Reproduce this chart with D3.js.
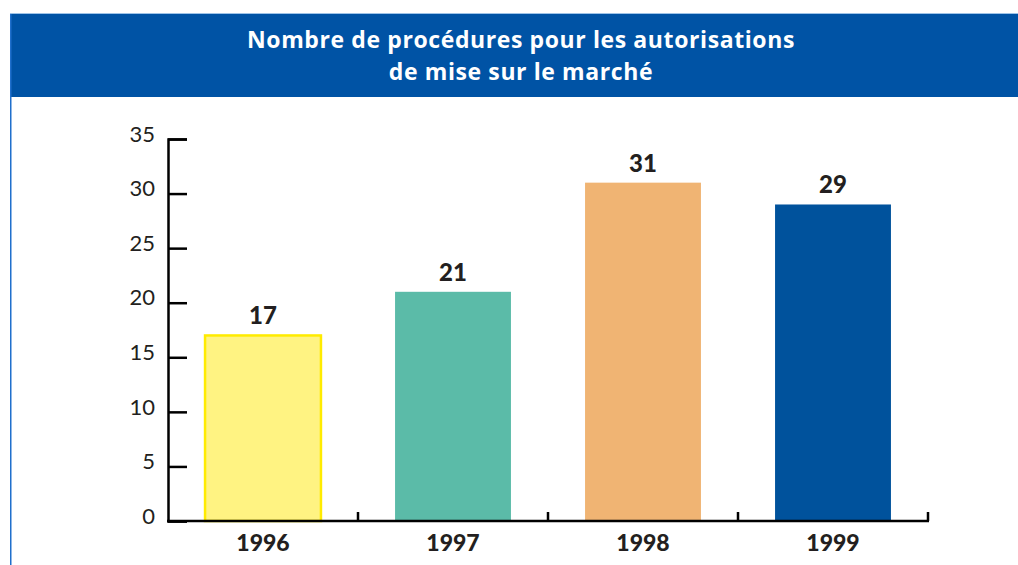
<!DOCTYPE html>
<html>
<head>
<meta charset="utf-8">
<script src="https://cdn.jsdelivr.net/npm/d3@7"></script>
<style>
  body { margin: 0; background: #fff; }
  svg { display: block; font-family: Lato, "Open Sans", sans-serif; }
</style>
</head>
<body>
<svg class="chart"></svg>
<script>
const years = ["1996", "1997", "1998", "1999"];
const values = [17, 21, 31, 29];
const barColors = ["#fff382", "#5bbba8", "#f0b473", "#00529c"];
const yTicks = [0, 5, 10, 15, 20, 25, 30, 35];
const titleLines = ["Nombre de procédures pour les autorisations", "de mise sur le marché"];

const width = 1018, height = 565;
const svg = d3.select(".chart").attr("width", width).attr("height", height);

// header band + left border
svg.append("rect").attr("x", 10).attr("y", 13).attr("width", width - 10).attr("height", 1.5).attr("fill", "#9ec3e8");
svg.append("rect").attr("x", 10).attr("y", 14).attr("width", width - 10).attr("height", 83).attr("fill", "#0053a5");
svg.append("rect").attr("x", 10).attr("y", 14).attr("width", 1.5).attr("height", height - 14).attr("fill", "#1f6fcc");

svg.selectAll(".title").data(titleLines).join("text").attr("class", "title")
  .attr("x", 521).attr("y", (d, i) => 48 + i * 32)
  .attr("text-anchor", "middle").attr("fill", "#fff")
  .attr("font-family", "'Open Sans', sans-serif")
  .attr("font-weight", "bold").attr("font-size", 23).attr("letter-spacing", 0.6).text(d => d);

const x = d3.scaleBand().domain(years).range([168, 928]).paddingInner(0.39).paddingOuter(0.195);
const y = d3.scaleLinear().domain([0, 35]).range([521, 139]);

// bars
svg.selectAll(".bar").data(values).join("rect").attr("class", "bar")
  .attr("x", (d, i) => x(years[i]))
  .attr("y", d => y(d))
  .attr("width", x.bandwidth())
  .attr("height", d => y(0) - y(d))
  .attr("fill", (d, i) => barColors[i])
  .attr("stroke", (d, i) => i == 0 ? "#ffeb00" : "none")
  .attr("stroke-width", 2.5);

svg.selectAll(".val").data(values).join("text").attr("class", "val")
  .attr("x", (d, i) => x(years[i]) + x.bandwidth() / 2)
  .attr("y", d => y(d) - 11)
  .attr("text-anchor", "middle").attr("font-weight", "900").attr("font-size", 24)
  .attr("fill", "#231f20").text(d => d);

// y axis
const yAxis = svg.append("g").attr("transform", "translate(168,0)")
  .call(d3.axisLeft(y).tickValues(yTicks).tickSize(-19).tickPadding(13));
yAxis.select(".domain").attr("stroke", "#000").attr("stroke-width", 2.5);
yAxis.selectAll(".tick line").attr("stroke", "#000").attr("stroke-width", 2.5);
yAxis.selectAll(".tick text").attr("font-size", 22).attr("font-family", "Lato, sans-serif").attr("fill", "#231f20").attr("dy", "0.1em");

// x axis
svg.append("line").attr("x1", 167).attr("x2", 929).attr("y1", 521).attr("y2", 521)
  .attr("stroke", "#000").attr("stroke-width", 2.5);
svg.selectAll(".xtick").data(years).join("line").attr("class", "xtick")
  .attr("x1", d => x(d) + x.bandwidth() + x.step() * x.paddingInner() / 2)
  .attr("x2", d => x(d) + x.bandwidth() + x.step() * x.paddingInner() / 2)
  .attr("y1", 521).attr("y2", 512).attr("stroke", "#000").attr("stroke-width", 2.5);

const xAxis = svg.append("g").attr("transform", "translate(0,521)")
  .call(d3.axisBottom(x).tickSize(0).tickPadding(14));
xAxis.select(".domain").remove();
xAxis.selectAll(".tick text").attr("font-size", 23).attr("font-weight", "900")
  .attr("font-family", "Lato, sans-serif").attr("fill", "#231f20");
</script>
</body>
</html>
